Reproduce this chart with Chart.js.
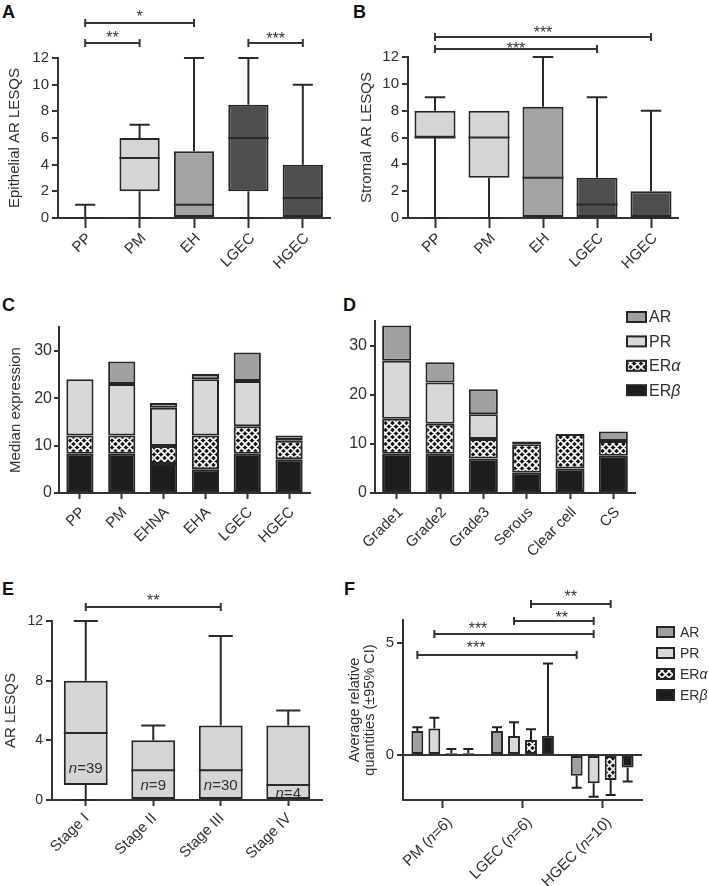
<!DOCTYPE html>
<html><head><meta charset="utf-8">
<script src="https://cdn.jsdelivr.net/npm/chart.js@4.4.1/dist/chart.umd.min.js"></script>
<style>
html,body{margin:0;padding:0;background:#fff;}
body{width:709px;height:886px;position:relative;overflow:hidden;}
canvas{position:absolute;}
.lt{position:absolute;font:bold 18px "Liberation Sans",Arial,sans-serif;line-height:18px;color:#111;}
</style></head><body>
<div class="lt" style="left:2px;top:3px">A</div>
<div class="lt" style="left:353px;top:3px">B</div>
<div class="lt" style="left:2px;top:296px">C</div>
<div class="lt" style="left:343px;top:296px">D</div>
<div class="lt" style="left:2px;top:580px">E</div>
<div class="lt" style="left:344px;top:580px">F</div>
<canvas id="cA" width="350" height="290" style="left:0;top:0"></canvas>
<canvas id="cB" width="359" height="290" style="left:350px;top:0"></canvas>
<canvas id="cC" width="340" height="300" style="left:0;top:290px"></canvas>
<canvas id="cD" width="369" height="300" style="left:340px;top:290px"></canvas>
<canvas id="cE" width="340" height="306" style="left:0;top:580px"></canvas>
<canvas id="cF" width="369" height="306" style="left:340px;top:580px"></canvas>
<script>
// ---------- DATA ----------
// Panel A: epithelial AR LESQS box plots
const aCategories = ['PP','PM','EH','LGEC','HGEC'];
const aMin    = [0, 0, 0, 0, 0];
const aQ1     = [0, 2, 0, 2, 0];
const aMedian = [0, 4.5, 1, 6, 1.5];
const aQ3     = [0, 6, 5, 8.5, 4];
const aMax    = [1, 7, 12, 12, 10];
const aTicks  = [0, 2, 4, 6, 8, 10, 12];
// Panel B: stromal AR LESQS box plots
const bCategories = ['PP','PM','EH','LGEC','HGEC'];
const bMin    = [0, 0, 0, 0, 0];
const bQ1     = [6, 3, 0, 0, 0];
const bMedian = [6, 6, 3, 1, 0];
const bQ3     = [8, 8, 8.3, 3, 2];
const bMax    = [9, 8, 12, 9, 8];
const bTicks  = [0, 2, 4, 6, 8, 10, 12];
// Panel C: median expression (stacked)
const cCategories = ['PP','PM','EHNA','EHA','LGEC','HGEC'];
const cERb = [8.3, 8.3, 6.1, 5.0, 8.3, 7.1];
const cERa = [3.8, 3.8, 3.8, 7.1, 5.8, 3.9];
const cPR  = [11.9, 10.9, 8.1, 11.9, 9.5, 0.2];
const cAR  = [0, 4.7, 1.0, 1.1, 6.0, 0.9];
const cTicks = [0, 10, 20, 30];
// Panel D: median expression by grade / type (stacked)
const dCategories = ['Grade1','Grade2','Grade3','Serous','Clear cell','CS'];
const dERb = [8.0, 8.0, 7.0, 4.1, 5.0, 7.6];
const dERa = [7.1, 6.1, 4.0, 5.8, 7.0, 3.0];
const dPR  = [11.8, 8.4, 5.0, 0, 0, 0];
const dAR  = [7.2, 4.1, 5.1, 0.6, 0, 1.9];
const dTicks = [0, 10, 20, 30];
// Panel E: AR LESQS by stage
const eCategories = ['Stage I','Stage II','Stage III','Stage IV'];
const eMin    = [0, 0, 0, 0];
const eQ1     = [1, 0, 0, 0];
const eMedian = [4.5, 2, 2, 1];
const eQ3     = [8, 4, 5, 5];
const eMax    = [12, 5, 11, 6];
const eN      = [39, 9, 30, 4];
const eTicks  = [0, 4, 8, 12];
// Panel F: average relative quantities (±95% CI)
const fCategories = ['PM','LGEC','HGEC'];
const fN      = [6, 6, 10];
const fAR     = [1.07, 1.07, -0.92];
const fARci   = [1.23, 1.23, -1.45];
const fPR     = [1.18, 0.84, -1.26];
const fPRci   = [1.66, 1.46, -1.85];
const fERa    = [0.08, 0.67, -1.11];
const fERaCi  = [0.27, 1.15, -1.78];
const fERb    = [0.08, 0.86, -0.55];
const fERbCi  = [0.27, 4.07, -1.18];
const fTicks  = [0, 5];

// ---------- STYLE ----------
const FONT = '"Liberation Sans", Arial, sans-serif';
const TXT = '#2f2f2f';
const EDGE = '#262626';
const LW = 2;
const LIGHT = '#d5d5d5', MID = '#a4a4a4', DARK = '#4e4e4e', BLACK = '#1d1d1d';

function makeHatch(){
  const n = 7, c = document.createElement('canvas'); c.width = c.height = n;
  const g = c.getContext('2d');
  g.fillStyle = '#151515'; g.fillRect(0,0,n,n);
  g.strokeStyle = '#fff'; g.lineWidth = 1.7; g.beginPath();
  for (let k = -n; k <= n; k += n) { g.moveTo(k, 0); g.lineTo(k + n, n); g.moveTo(k + n, 0); g.lineTo(k, n); }
  g.stroke();
  return g.createPattern(c, 'repeat');
}
const HATCH = makeHatch();

function segs(text){
  const out = []; let buf = '';
  for (let i = 0; i < text.length; i++) {
    const ch = text[i];
    const it = (ch === 'n' && text[i+1] === '=') || ch === 'α' || ch === 'β';
    if (it) { if (buf) out.push([buf,false]); buf=''; out.push([ch,true]); } else buf += ch;
  }
  if (buf) out.push([buf,false]);
  return out;
}
function drawSegs(ctx, text, x, y, size, align){
  const parts = segs(text);
  const w = parts.map(([t,it]) => { ctx.font = (it?'italic ':'') + size + 'px ' + FONT; return ctx.measureText(t).width; });
  const total = w.reduce((a,b)=>a+b,0);
  let cx = align === 'right' ? x - total : align === 'center' ? x - total/2 : x;
  ctx.textAlign = 'left';
  parts.forEach(([t,it],k) => { ctx.font = (it?'italic ':'') + size + 'px ' + FONT; ctx.fillText(t, cx, y); cx += w[k]; });
}

function yScale(o){
  return {
    min:o.min, max:o.max, stacked: !!o.stacked,
    afterFit: s => { s.width = o.width; },
    afterBuildTicks: s => { s.ticks = o.ticks.map(v => ({value:v})); },
    ticks:{ color:TXT, font:{family:FONT, size:o.fs}, padding:o.tpad ?? 3 },
    grid:{ drawOnChartArea: !!o.zeroLine, drawTicks:true, tickLength:o.tl ?? 6, tickColor:'#333', tickWidth:LW,
      lineWidth:LW, color: o.zeroLine ? (c => (c.tick && c.tick.value === 0) ? '#333' : 'rgba(0,0,0,0)') : '#333' },
    border:{ display:true, color:'#333', width:LW },
    title: o.title ? { display:true, text:o.title, color:TXT,
      font:{family:FONT, size:o.titleFs ?? 15, lineHeight:o.lh ?? 1.2}, padding:{top:o.titlePad, bottom:0} } : {display:false}
  };
}
function xScale(o){
  return {
    type:'category', offset:true, stacked: !!o.stacked,
    afterFit: s => { s.height = o.height; },
    ticks:{ display:false },
    grid:{ offset:false, drawOnChartArea:false, drawTicks:true, tickLength:o.tl, tickColor:'#333', tickWidth:LW },
    border:{ display:true, color:'#333', width:LW }
  };
}
function labelsPlugin(o){
  return { id:'xlabels', afterDraw(chart){
    const ctx = chart.ctx, xs = chart.scales.x, b = chart.chartArea.bottom;
    ctx.save(); ctx.fillStyle = TXT; ctx.textBaseline = 'middle';
    chart.data.labels.forEach((lab,i) => {
      ctx.save(); ctx.translate(xs.getPixelForTick(i) + o.dx, b + o.dy); ctx.rotate(-Math.PI/4);
      drawSegs(ctx, lab, 0, 0, o.fs, 'right'); ctx.restore();
    });
    ctx.restore();
  }};
}
function bracketsPlugin(list, getX){
  return { id:'brackets', afterDraw(chart){
    const ctx = chart.ctx; ctx.save();
    ctx.strokeStyle = '#333'; ctx.fillStyle = '#333'; ctx.lineWidth = LW;
    ctx.font = '16px ' + FONT; ctx.textAlign = 'center'; ctx.textBaseline = 'alphabetic';
    list.forEach(b => {
      const x1 = getX(chart, b, b.a), x2 = getX(chart, b, b.b);
      ctx.beginPath();
      ctx.moveTo(x1, b.y); ctx.lineTo(x2, b.y);
      ctx.moveTo(x1, b.y - 4); ctx.lineTo(x1, b.y + 4);
      ctx.moveTo(x2, b.y - 4); ctx.lineTo(x2, b.y + 4);
      ctx.stroke();
      ctx.fillText(b.t, (x1 + x2) / 2 + (b.dx || 0), b.y - b.gap + 7);
    });
    ctx.restore();
  }};
}
const catX = (chart, b, i) => chart.scales.x.getPixelForTick(i);
const barX = (chart, b, i) => chart.getDatasetMeta(b.ds).data[i].x;

function boxPlugin(capFrac){
  return { id:'boxes', afterDatasetsDraw(chart){
    const ctx = chart.ctx, ys = chart.scales.y, s = chart.data.datasets[0].stats;
    ctx.save(); ctx.strokeStyle = '#2a2a2a'; ctx.lineWidth = LW;
    chart.getDatasetMeta(0).data.forEach((el,i) => {
      const x = el.x, w = el.width, cap = w * capFrac / 2, P = v => ys.getPixelForValue(v);
      ctx.beginPath();
      if (s.max[i] > s.q3[i]) { ctx.moveTo(x, P(s.q3[i])); ctx.lineTo(x, P(s.max[i])); ctx.moveTo(x-cap, P(s.max[i])); ctx.lineTo(x+cap, P(s.max[i])); }
      if (s.min[i] < s.q1[i]) { ctx.moveTo(x, P(s.q1[i])); ctx.lineTo(x, P(s.min[i])); ctx.moveTo(x-cap, P(s.min[i])); ctx.lineTo(x+cap, P(s.min[i])); }
      ctx.moveTo(x - w/2, P(s.med[i])); ctx.lineTo(x + w/2, P(s.med[i]));
      ctx.stroke();
      if (s.n) {
        const q1 = P(s.q1[i]), md = P(s.med[i]);
        const y = Math.max(q1 - 16, (q1 + md) / 2 + 1);
        ctx.fillStyle = TXT; ctx.textBaseline = 'middle';
        drawSegs(ctx, 'n=' + s.n[i], x, y, 15, 'center');
      }
    });
    ctx.restore();
  }};
}
function legendPlugin(o){
  return { id:'legendbox', afterDraw(chart){
    const ctx = chart.ctx; let ds = chart.data.datasets.slice(); if (o.reverse) ds.reverse();
    ctx.save();
    ds.forEach((d,k) => {
      const y = o.y0 + k * o.dy;
      ctx.fillStyle = d.backgroundColor; ctx.fillRect(o.x, y - o.h/2, o.w, o.h);
      ctx.strokeStyle = EDGE; ctx.lineWidth = LW; ctx.strokeRect(o.x, y - o.h/2, o.w, o.h);
      ctx.fillStyle = TXT; ctx.textBaseline = 'middle';
      drawSegs(ctx, d.label, o.x + o.w + o.gap, y + 1, o.fs, 'left');
    });
    ctx.restore();
  }};
}
const errPlugin = { id:'errbars', afterDatasetsDraw(chart){
  const ctx = chart.ctx, ys = chart.scales.y;
  ctx.save(); ctx.strokeStyle = '#222'; ctx.lineWidth = 2;
  chart.data.datasets.forEach((d,di) => {
    chart.getDatasetMeta(di).data.forEach((el,i) => {
      const y0 = ys.getPixelForValue(d.data[i]), y1 = ys.getPixelForValue(d.ci[i]), cw = el.width * 0.42;
      ctx.beginPath(); ctx.moveTo(el.x, y0); ctx.lineTo(el.x, y1);
      ctx.moveTo(el.x - cw, y1); ctx.lineTo(el.x + cw, y1); ctx.stroke();
    });
  });
  ctx.restore();
}};

const common = { responsive:false, animation:false, devicePixelRatio:1, events:[],
  plugins:{ legend:{display:false}, tooltip:{enabled:false} } };

function boxChart(id, c){
  return new Chart(document.getElementById(id), {
    type:'bar',
    data:{ labels:c.labels, datasets:[{ data:c.q1.map((v,i)=>[v, c.q3[i]]), backgroundColor:c.fill,
      borderColor:EDGE, borderWidth:LW, borderSkipped:false, barPercentage:c.bp, categoryPercentage:1,
      stats:{min:c.min, q1:c.q1, med:c.med, q3:c.q3, max:c.max, n:c.n} }] },
    options:Object.assign({}, common, { layout:{padding:c.pad},
      scales:{ x:xScale(c.x), y:yScale(c.y) } }),
    plugins:[boxPlugin(c.cap), labelsPlugin(c.lbl), bracketsPlugin(c.brackets || [], catX)]
  });
}

// ---------- A ----------
boxChart('cA', { labels:aCategories, min:aMin, q1:aQ1, med:aMedian, q3:aQ3, max:aMax,
  fill:[LIGHT, LIGHT, MID, DARK, DARK], bp:0.74, cap:0.5,
  pad:{left:0, top:58, right:20, bottom:0},
  x:{height:72, tl:10}, y:{min:0, max:12, ticks:aTicks, width:58, fs:15, title:'Epithelial AR LESQS', titlePad:6},
  lbl:{dx:4, dy:18, fs:15},
  brackets:[{a:0,b:2,y:23,gap:8,t:'*'},{a:0,b:1,y:43,gap:7,t:'**'},{a:3,b:4,y:43,gap:6,t:'***'}] });

// ---------- B ----------
boxChart('cB', { labels:bCategories, min:bMin, q1:bQ1, med:bMedian, q3:bQ3, max:bMax,
  fill:[LIGHT, LIGHT, MID, DARK, DARK], bp:0.76, cap:0.5,
  pad:{left:0, top:57, right:31, bottom:0},
  x:{height:72, tl:10}, y:{min:0, max:12, ticks:bTicks, width:58, fs:15, title:'Stromal AR LESQS', titlePad:8},
  lbl:{dx:4, dy:18, fs:15},
  brackets:[{a:0,b:4,y:37,gap:6,t:'***'},{a:0,b:3,y:49,gap:2,t:'***'}] });

// ---------- C & D (stacked) ----------
function stackChart(id, c){
  return new Chart(document.getElementById(id), {
    type:'bar',
    data:{ labels:c.labels, datasets:[
      {label:'ERβ', data:c.erb, backgroundColor:BLACK},
      {label:'ERα', data:c.era, backgroundColor:HATCH},
      {label:'PR',  data:c.pr,  backgroundColor:'#d8d8d8'},
      {label:'AR',  data:c.ar,  backgroundColor:'#a0a0a0'}
    ].map(d => Object.assign(d, {borderColor:EDGE, borderWidth:LW, borderSkipped:false, barPercentage:c.bp, categoryPercentage:1})) },
    options:Object.assign({}, common, { layout:{padding:c.pad},
      scales:{ x:xScale(Object.assign({stacked:true}, c.x)), y:yScale(Object.assign({stacked:true}, c.y)) } }),
    plugins:[labelsPlugin(c.lbl)].concat(c.legend ? [legendPlugin(c.legend)] : [])
  });
}
stackChart('cC', { labels:cCategories, erb:cERb, era:cERa, pr:cPR, ar:cAR, bp:0.65,
  pad:{left:0, top:37, right:30, bottom:0},
  x:{height:97, tl:6}, y:{min:0, max:35, ticks:cTicks, width:59, fs:16, tl:5, tpad:2, title:'Median expression', titlePad:7},
  lbl:{dx:3, dy:17, fs:15} });
stackChart('cD', { labels:dCategories, erb:dERb, era:dERa, pr:dPR, ar:dAR, bp:0.67,
  pad:{left:0, top:31, right:74, bottom:0},
  x:{height:97, tl:6}, y:{min:0, max:35, ticks:dTicks, width:35, fs:16, tl:5, tpad:3},
  lbl:{dx:4, dy:17, fs:15},
  legend:{x:287, y0:27, dy:24.4, w:19, h:10, gap:3, fs:16, reverse:true} });

// ---------- E ----------
boxChart('cE', { labels:eCategories, min:eMin, q1:eQ1, med:eMedian, q3:eQ3, max:eMax, n:eN,
  fill:[LIGHT, LIGHT, LIGHT, LIGHT], bp:0.65, cap:0.55,
  pad:{left:0, top:41, right:18, bottom:0},
  x:{height:86, tl:6}, y:{min:0, max:12, ticks:eTicks, width:52, fs:14, title:'AR LESQS', titlePad:2},
  lbl:{dx:1, dy:16, fs:15},
  brackets:[{a:0,b:2,y:27,gap:8,t:'**'}] });

// ---------- F ----------
new Chart(document.getElementById('cF'), {
  type:'bar',
  data:{ labels:fCategories.map((c,i) => c + ' (n=' + fN[i] + ')'), datasets:[
    {label:'AR',  data:fAR,  ci:fARci,  backgroundColor:'#a0a0a0'},
    {label:'PR',  data:fPR,  ci:fPRci,  backgroundColor:'#d8d8d8'},
    {label:'ERα', data:fERa, ci:fERaCi, backgroundColor:HATCH},
    {label:'ERβ', data:fERb, ci:fERbCi, backgroundColor:BLACK}
  ].map(d => Object.assign(d, {borderColor:EDGE, borderWidth:LW, borderSkipped:false, barPercentage:0.7, categoryPercentage:0.853})) },
  options:Object.assign({}, common, { layout:{padding:{left:0, top:40, right:67, bottom:0}},
    scales:{ x:xScale({height:86, tl:8}),
      y:yScale({min:-2, max:6, ticks:fTicks, width:63, fs:15, tl:6, zeroLine:true,
        title:['Average relative','quantities (±95% CI)'], titleFs:14.5, lh:1.0, titlePad:8}) } }),
  plugins:[errPlugin, labelsPlugin({dx:7, dy:20, fs:15}),
    legendPlugin({x:317, y0:52, dy:21, w:17, h:10, gap:6, fs:14, reverse:false}),
    bracketsPlugin([{ds:0,a:0,b:2,y:75,gap:9,t:'***',dx:-21},{ds:1,a:0,b:2,y:54,gap:7,t:'***',dx:-36},
                    {ds:1,a:1,b:2,y:41,gap:5,t:'**',dx:8},{ds:2,a:1,b:2,y:24,gap:9,t:'**'}], barX)]
});
</script>
</body></html>
